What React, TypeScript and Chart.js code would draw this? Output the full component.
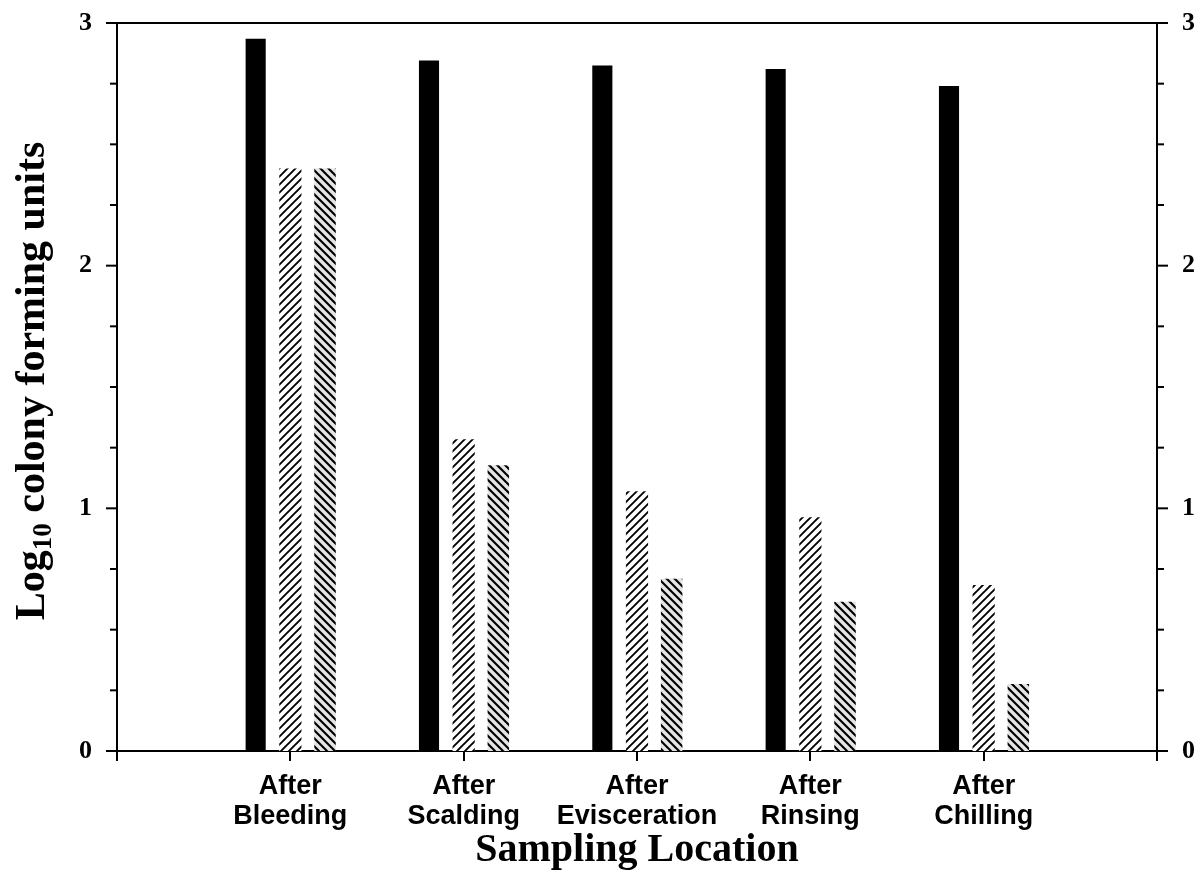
import React, { useEffect, useRef } from 'react';
import { Chart, registerables } from 'chart.js';

Chart.register(...registerables);

// ---- data ----
const categories: (string | string[])[] = [
  '',
  ['After', 'Bleeding'],
  ['After', 'Scalding'],
  ['After', 'Evisceration'],
  ['After', 'Rinsing'],
  ['After', 'Chilling'],
  '',
];
const seriesSolid = [null, 2.935, 2.845, 2.825, 2.81, 2.74, null];
const seriesHatchFwd = [null, 2.4, 1.285, 1.07, 0.963, 0.684, null];
const seriesHatchBack = [null, 2.4, 1.178, 0.71, 0.615, 0.276, null];
const yMajorLabels = ['0', '1', '2', '3'];
const xTitle = 'Sampling Location';
const yTitleMain = 'Log';
const yTitleSub = '10';
const yTitleRest = ' colony forming units';

function makeHatch(ctx: CanvasRenderingContext2D, dir: 'fwd' | 'back', bg: string, lw: number) {
  const s = 8;
  const c = document.createElement('canvas');
  c.width = s;
  c.height = s;
  const g = c.getContext('2d')!;
  g.fillStyle = bg;
  g.fillRect(0, 0, s, s);
  g.strokeStyle = '#000';
  g.lineWidth = lw;
  g.beginPath();
  if (dir === 'fwd') {
    g.moveTo(-s, 2 * s); g.lineTo(2 * s, -s);
    g.moveTo(-2 * s, 2 * s); g.lineTo(s, -s);
    g.moveTo(0, 2 * s); g.lineTo(3 * s, -s);
  } else {
    g.moveTo(-s, -s); g.lineTo(2 * s, 2 * s);
    g.moveTo(-2 * s, -s); g.lineTo(s, 2 * s);
    g.moveTo(0, -s); g.lineTo(3 * s, 2 * s);
  }
  g.stroke();
  return ctx.createPattern(c, 'repeat')!;
}

const framePlugin = {
  id: 'frameTicks',
  afterDraw(chart: any) {
    const { ctx, chartArea } = chart;
    ctx.save();
    ctx.strokeStyle = '#000';
    // top frame line
    ctx.lineWidth = 2;
    ctx.beginPath();
    ctx.moveTo(chartArea.left, chartArea.top);
    ctx.lineTo(chartArea.right, chartArea.top);
    ctx.stroke();
    // y tick marks (major and minor), outward on both sides
    const yl = chart.scales.y;
    const yr = chart.scales.y2;
    yl.ticks.forEach((t: any) => {
      const major = Math.abs(t.value - Math.round(t.value)) < 1e-9;
      const len = major ? 11 : 7;
      const py = yl.getPixelForValue(t.value);
      ctx.lineWidth = 2;
      ctx.beginPath();
      ctx.moveTo(chartArea.left - len, py);
      ctx.lineTo(chartArea.left, py);
      ctx.stroke();
    });
    yr.ticks.forEach((t: any) => {
      const major = Math.abs(t.value - Math.round(t.value)) < 1e-9;
      const len = major ? 11 : 7;
      const py = yr.getPixelForValue(t.value);
      ctx.lineWidth = 2;
      ctx.beginPath();
      ctx.moveTo(chartArea.right, py);
      ctx.lineTo(chartArea.right + len, py);
      ctx.stroke();
    });
    // y title with subscript
    const cy = (chartArea.top + chartArea.bottom) / 2 - 6;
    const bx = 44;
    const fMain = 'bold 42px "Liberation Serif", "Times New Roman", serif';
    const fSub = 'bold 27px "Liberation Serif", "Times New Roman", serif';
    ctx.font = fMain;
    const w1 = ctx.measureText(yTitleMain).width;
    const w3 = ctx.measureText(yTitleRest).width;
    ctx.font = fSub;
    const w2 = ctx.measureText(yTitleSub).width;
    const total = w1 + w2 + w3;
    ctx.translate(bx, cy);
    ctx.rotate(-Math.PI / 2);
    ctx.fillStyle = '#000';
    ctx.textBaseline = 'alphabetic';
    ctx.textAlign = 'left';
    let x = -total / 2;
    ctx.font = fMain;
    ctx.fillText(yTitleMain, x, 0);
    x += w1;
    ctx.font = fSub;
    ctx.fillText(yTitleSub, x, 7);
    x += w2;
    ctx.font = fMain;
    ctx.fillText(yTitleRest, x, 0);
    ctx.restore();
  },
};

export default function App() {
  const ref = useRef<HTMLCanvasElement | null>(null);
  useEffect(() => {
    const canvas = ref.current!;
    const ctx = canvas.getContext('2d')!;
    const hatchFwd = makeHatch(ctx, 'fwd', '#ffffff', 1.9);
    const hatchBack = makeHatch(ctx, 'back', '#e4e4e4', 2.1);
    const yTickCb = (v: any) => {
      const n = Number(v);
      const i = Math.round(n);
      return Math.abs(n - i) < 1e-9 ? yMajorLabels[i] : '';
    };
    const yFont = { family: '"Liberation Serif", "Times New Roman", serif', size: 26, weight: 'bold' as const };
    const chart = new Chart(ctx, {
      type: 'bar',
      data: {
        labels: categories as any,
        datasets: [
          { data: seriesSolid as any, backgroundColor: '#000', borderWidth: 0, barPercentage: 0.58 },
          { data: seriesHatchFwd as any, backgroundColor: hatchFwd as any, borderWidth: 0, barPercentage: 0.64 },
          { data: seriesHatchBack as any, backgroundColor: hatchBack as any, borderWidth: 0, barPercentage: 0.62 },
        ],
      },
      options: {
        responsive: false,
        animation: false,
        events: [],
        layout: { padding: { top: 0, left: 0, right: 0, bottom: 0 } },
        datasets: { bar: { categoryPercentage: 0.6 } },
        plugins: { legend: { display: false }, tooltip: { enabled: false } },
        scales: {
          x: {
            type: 'category',
            offset: false,
            grid: { offset: false, drawOnChartArea: false, drawTicks: true, tickLength: 10, color: '#000', lineWidth: 2 },
            border: { display: true, color: '#000', width: 2 },
            ticks: {
              autoSkip: false,
              maxRotation: 0,
              minRotation: 0,
              padding: 10,
              color: '#000',
              font: { family: '"Liberation Sans", Arial, sans-serif', size: 27, weight: 'bold', lineHeight: 1.12 },
            },
            title: {
              display: true,
              text: xTitle,
              color: '#000',
              padding: { top: 0, bottom: 0 },
              font: { family: '"Liberation Serif", "Times New Roman", serif', size: 40, weight: 'bold', lineHeight: 1.2 },
            },
            afterFit(scale: any) { scale.height = 124; },
          },
          y: {
            type: 'linear',
            position: 'left',
            min: 0,
            max: 3,
            grid: { display: false, drawTicks: false },
            border: { display: true, color: '#000', width: 2 },
            ticks: { stepSize: 0.25, autoSkip: false, maxTicksLimit: 20, padding: 25, color: '#000', font: yFont, callback: yTickCb },
            afterFit(scale: any) { scale.width = 117; scale.paddingTop = 23; },
          },
          y2: {
            type: 'linear',
            position: 'right',
            min: 0,
            max: 3,
            grid: { display: false, drawTicks: false },
            border: { display: true, color: '#000', width: 2 },
            ticks: { stepSize: 0.25, autoSkip: false, maxTicksLimit: 20, padding: 25, color: '#000', font: yFont, callback: yTickCb },
            afterFit(scale: any) { scale.width = 46; scale.paddingTop = 23; },
          },
        },
      } as any,
      plugins: [framePlugin],
    });
    return () => chart.destroy();
  }, []);
  return (
    <div style={{ position: 'absolute', left: 0, top: 0, width: 1203, height: 875, background: '#fff' }}>
      <canvas ref={ref} width={1203} height={875} style={{ display: 'block' }} />
    </div>
  );
}
